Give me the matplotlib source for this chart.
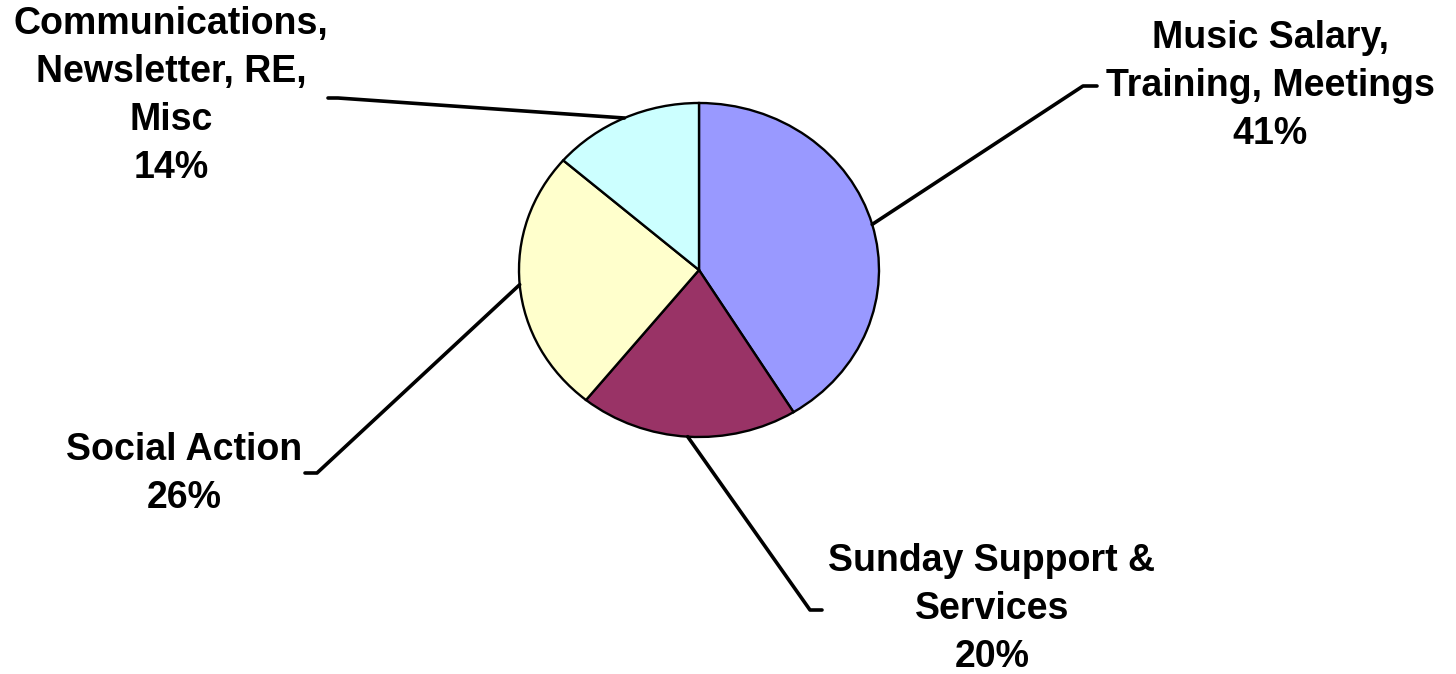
import numpy as np
import matplotlib
matplotlib.use("Agg")
import matplotlib.pyplot as plt

# budget shares (percent), clockwise from 12 o'clock
categories = [
    "Music Salary,\nTraining, Meetings",
    "Sunday Support &\nServices",
    "Social Action",
    "Communications,\nNewsletter, RE,\nMisc",
]
shares = [41.2, 19.6, 25.6, 13.6]
colors = ["#9999FF", "#993366", "#FFFFCC", "#CCFFFF"]

# label layout in figure pixels (y measured from top)
label_pos = [(1270, 86), (992, 609), (184, 474), (171, 96)]
elbow_pos = [(1083, 86), (810, 610), (317, 473), (338, 98)]
hook_end = [(1097, 86), (822, 610), (305, 473), (328, 98)]

W, H = 1456, 674
fig = plt.figure(figsize=(W / 100, H / 100), dpi=100)

# pie axes: ellipse with 180 px horizontal and 167 px vertical radius
cx, cy = 699, 270
rx, ry = 180, 167
pad_x, pad_y = 200, 190
ax = fig.add_axes([(cx - pad_x) / W, (H - cy - pad_y) / H, 2 * pad_x / W, 2 * pad_y / H])
wedges, _ = ax.pie(
    shares,
    colors=colors,
    startangle=90,
    counterclock=False,
    wedgeprops={"edgecolor": "black", "linewidth": 1.7},
)
ax.set_aspect("auto")
ax.set_xlim(-pad_x / rx, pad_x / rx)
ax.set_ylim(-pad_y / ry, pad_y / ry)
ax.axis("off")

# overlay axes in pixel coordinates for leader lines and labels
over = fig.add_axes([0, 0, 1, 1])
over.set_xlim(0, W)
over.set_ylim(H, 0)
over.axis("off")

for wedge, name, value, lpos, elbow, hook in zip(
    wedges, categories, shares, label_pos, elbow_pos, hook_end
):
    mid = np.deg2rad((wedge.theta1 + wedge.theta2) / 2)
    px, py = ax.transData.transform((np.cos(mid), np.sin(mid)))
    edge = (px, H - py)
    over.plot(
        [edge[0], elbow[0], hook[0]],
        [edge[1], elbow[1], hook[1]],
        color="black",
        linewidth=2.6,
        solid_capstyle="round",
        solid_joinstyle="round",
    )
    over.text(
        lpos[0],
        lpos[1],
        f"{name}\n{value:.0f}%",
        ha="center",
        va="center",
        multialignment="center",
        fontsize=27,
        fontweight="bold",
        family=["Liberation Sans", "DejaVu Sans"],
        linespacing=1.44,
    )

fig.savefig("out.png", dpi=100)
plt.close(fig)
